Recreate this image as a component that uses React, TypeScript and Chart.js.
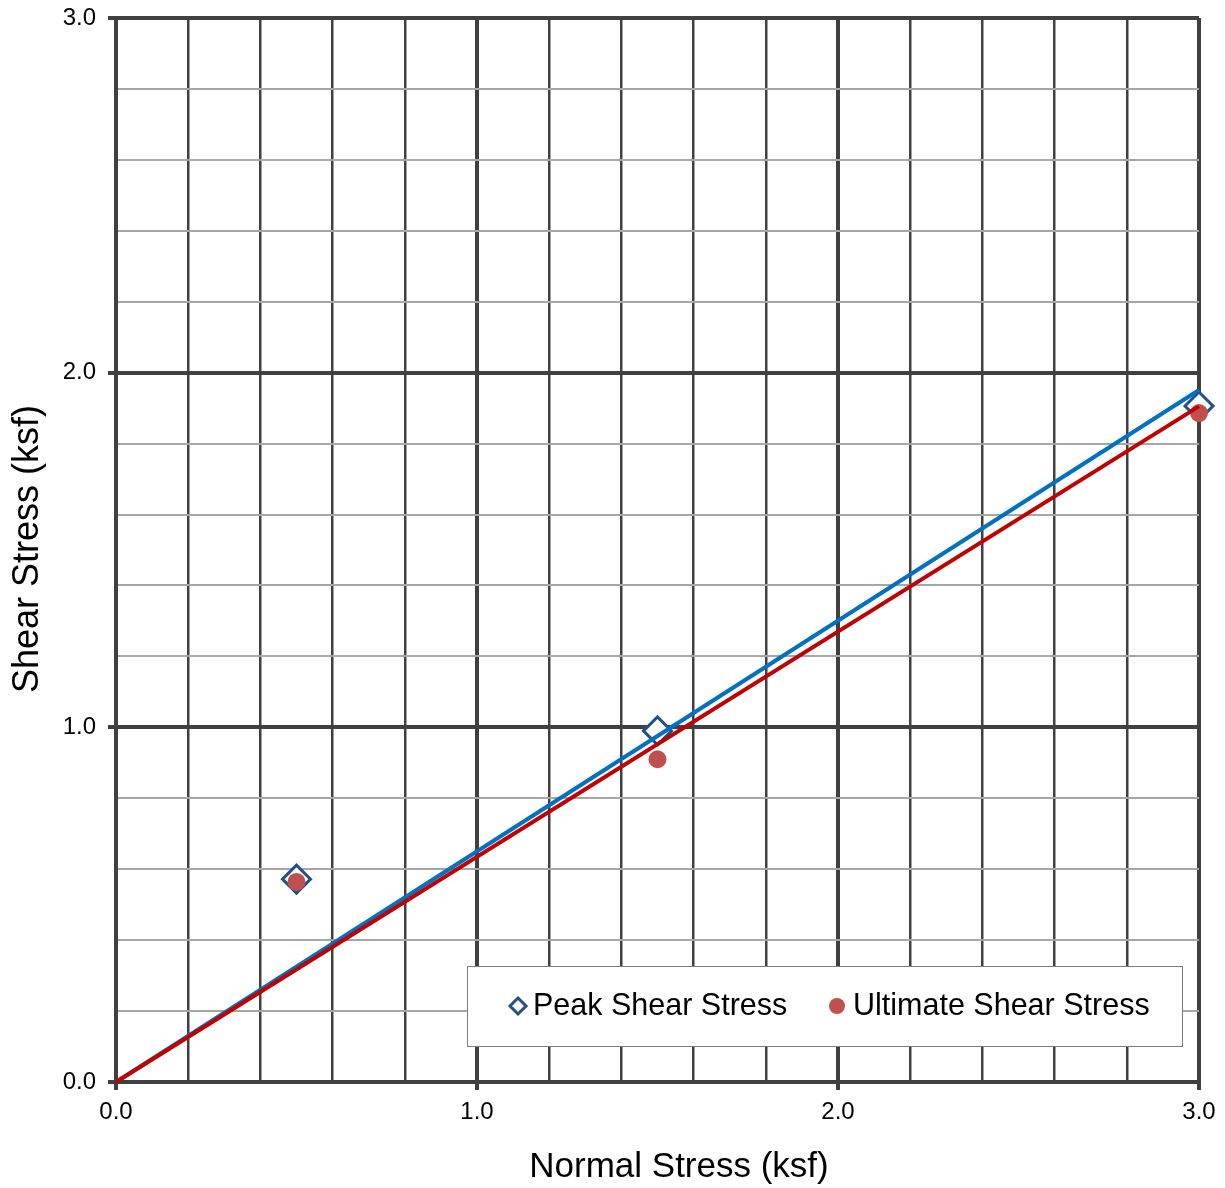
import React, { useEffect, useRef } from "react";
import { Chart, registerables } from "chart.js";

Chart.register(...registerables);

const peakX = [0.5, 1.5, 3.0];
const peakY = [0.572, 0.99, 1.906];
const ultX = [0.5, 1.5, 3.0];
const ultY = [0.564, 0.91, 1.886];
const peakFitX = [0, 3.0];
const peakFitY = [0, 1.951];
const ultFitX = [0, 3.0];
const ultFitY = [0, 1.905];
const legendLabels = ["Peak Shear Stress", "Ultimate Shear Stress"];
const xTitle = "Normal Stress (ksf)";
const yTitle = "Shear Stress (ksf)";

const FONT = "'Liberation Sans', Arial, sans-serif";
const DARK = "#404040";
const LIGHT = "#a6a6a6";
const PEAK_COLOR = "#234F8A";
const ULT_COLOR = "#C0504D";

const isMajor = (v: number) => Math.abs(v - Math.round(v)) < 1e-6;

const toPts = (xs: number[], ys: number[]) => xs.map((x, i) => ({ x, y: ys[i] }));

const overlayPlugin = {
  id: "overlay",
  afterDraw(chart: any) {
    const ctx = chart.ctx;
    const x0 = 467, y0 = 966, w = 715, h = 80;
    ctx.save();
    ctx.fillStyle = "#ffffff";
    ctx.fillRect(x0, y0, w, h);
    ctx.strokeStyle = "#7f7f7f";
    ctx.lineWidth = 1;
    ctx.strokeRect(x0 + 0.5, y0 + 0.5, w, h);
    const cy = y0 + 40;
    // diamond
    ctx.beginPath();
    const dx = 518, r = 8;
    ctx.moveTo(dx, cy - r);
    ctx.lineTo(dx + r, cy);
    ctx.lineTo(dx, cy + r);
    ctx.lineTo(dx - r, cy);
    ctx.closePath();
    ctx.fillStyle = "#fff";
    ctx.fill();
    ctx.strokeStyle = PEAK_COLOR;
    ctx.lineWidth = 3;
    ctx.stroke();
    // circle
    ctx.beginPath();
    ctx.arc(837, cy, 8, 0, Math.PI * 2);
    ctx.fillStyle = ULT_COLOR;
    ctx.fill();
    ctx.fillStyle = "#000";
    ctx.font = `30.5px ${FONT}`;
    ctx.textBaseline = "middle";
    ctx.textAlign = "left";
    ctx.fillText(legendLabels[0], 533, cy + 1);
    ctx.fillText(legendLabels[1], 853, cy + 1);

    // axis titles
    ctx.font = `35px ${FONT}`;
    ctx.textAlign = "center";
    ctx.textBaseline = "middle";
    ctx.fillText(xTitle, 679, 1167);
    ctx.save();
    ctx.translate(28, 549);
    ctx.rotate(-Math.PI / 2);
    ctx.font = `36px ${FONT}`;
    ctx.fillText(yTitle, 0, 0);
    ctx.restore();
    ctx.restore();
  },
};

export default function App() {
  const ref = useRef<HTMLCanvasElement | null>(null);
  useEffect(() => {
    document.body.style.margin = "0";
    const canvas = ref.current!;
    const chart = new Chart(canvas, {
      type: "scatter",
      data: {
        datasets: [
          {
            label: legendLabels[0],
            data: toPts(peakX, peakY),
            pointStyle: "rectRot",
            pointRadius: 14,
            pointBorderWidth: 3,
            pointBackgroundColor: "#ffffff",
            pointBorderColor: PEAK_COLOR,
            showLine: false,
            clip: false,
            order: 4,
          },
          {
            label: legendLabels[1],
            data: toPts(ultX, ultY),
            pointStyle: "circle",
            pointRadius: 9,
            pointBorderWidth: 0,
            pointBackgroundColor: ULT_COLOR,
            pointBorderColor: ULT_COLOR,
            showLine: false,
            clip: false,
            order: 3,
          },
          {
            label: "peakfit",
            data: toPts(peakFitX, peakFitY),
            showLine: true,
            borderColor: "#0070C0",
            borderWidth: 4,
            pointRadius: 0,
            clip: false,
            order: 2,
          },
          {
            label: "ultfit",
            data: toPts(ultFitX, ultFitY),
            showLine: true,
            borderColor: "#C00000",
            borderWidth: 4,
            pointRadius: 0,
            clip: false,
            order: 1,
          },
        ],
      },
      options: {
        animation: false,
        responsive: false,
        maintainAspectRatio: false,
        layout: { padding: { top: 18, right: 26, left: 0, bottom: 0 } },
        plugins: { legend: { display: false }, tooltip: { enabled: false } },
        scales: {
          x: {
            type: "linear",
            min: 0,
            max: 3,
            afterFit: (s: any) => {
              s.height = 106;
              s.paddingLeft = 0;
              s.paddingRight = 0;
            },
            ticks: {
              stepSize: 0.2,
              autoSkip: false,
              maxRotation: 0,
              padding: 8,
              color: "#000",
              font: { family: FONT, size: 24 },
              callback: (v: any) => (isMajor(Number(v)) ? Number(v).toFixed(1) : ""),
            },
            grid: {
              color: DARK,
              lineWidth: (c: any) => (isMajor(c.tick.value) ? 4 : 2.5),
              tickColor: (c: any) => (isMajor(c.tick.value) ? DARK : "rgba(0,0,0,0)"),
              tickLength: 8,
              drawTicks: true,
            },
            border: { display: true, color: DARK, width: 4 },
            title: { display: false },
          },
          y: {
            type: "linear",
            min: 0,
            max: 3,
            afterFit: (s: any) => {
              s.width = 116;
              s.paddingTop = 0;
              s.paddingBottom = 0;
            },
            ticks: {
              stepSize: 0.2,
              autoSkip: false,
              padding: 12,
              color: "#000",
              font: { family: FONT, size: 24 },
              callback: (v: any) => (isMajor(Number(v)) ? Number(v).toFixed(1) : ""),
            },
            grid: {
              color: (c: any) => (isMajor(c.tick.value) ? DARK : LIGHT),
              lineWidth: (c: any) => (isMajor(c.tick.value) ? 4 : 2),
              tickColor: (c: any) => (isMajor(c.tick.value) ? DARK : "rgba(0,0,0,0)"),
              tickLength: 8,
              drawTicks: true,
            },
            border: { display: true, color: DARK, width: 4 },
            title: { display: false },
          },
        },
      },
      plugins: [overlayPlugin],
    } as any);
    return () => chart.destroy();
  }, []);
  return (
    <div style={{ width: 1225, height: 1188, background: "#fff" }}>
      <canvas ref={ref} width={1225} height={1188} style={{ width: 1225, height: 1188, display: "block" }} />
    </div>
  );
}
